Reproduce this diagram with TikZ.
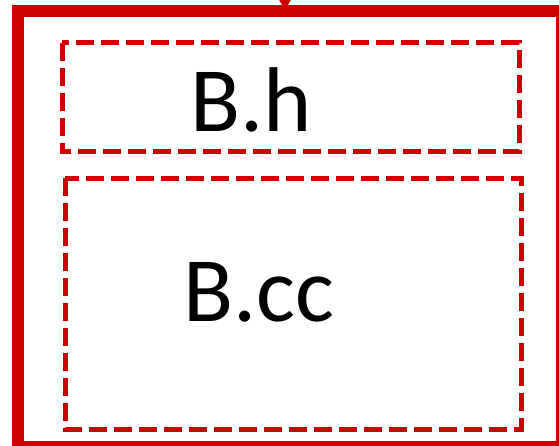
\documentclass[tikz,border=0pt]{standalone}
\usepackage{fontspec}
\setmainfont{Carlito}
\definecolor{bred}{HTML}{CC0000}
\begin{document}
\begin{tikzpicture}[x=1pt,y=-1pt,
  outerbox/.style={draw=bred,line width=12pt},
  innerbox/.style={draw=bred,line width=5pt,dash pattern=on 18pt off 7pt},
  lbl/.style={font=\fontsize{92}{92}\selectfont,anchor=base,inner sep=0pt}]
\useasboundingbox (0,0) rectangle (559,445);
\draw[outerbox] (18,11) rectangle (562,447);
\coordinate (arrtop) at (285,-20);
\coordinate (arrend) at (285,10);
\fill[bred] (278,-2) -- (292,-2) -- (arrend) -- cycle;
\draw[innerbox] (62,42.5) rectangle (519,151.5);
\draw[innerbox] (65,178) rectangle (521,429);
\node[lbl] (bh) at (251,131) {B.h};
\node[lbl] (bcc) at (259,321) {B.cc};
\end{tikzpicture}
\end{document}
